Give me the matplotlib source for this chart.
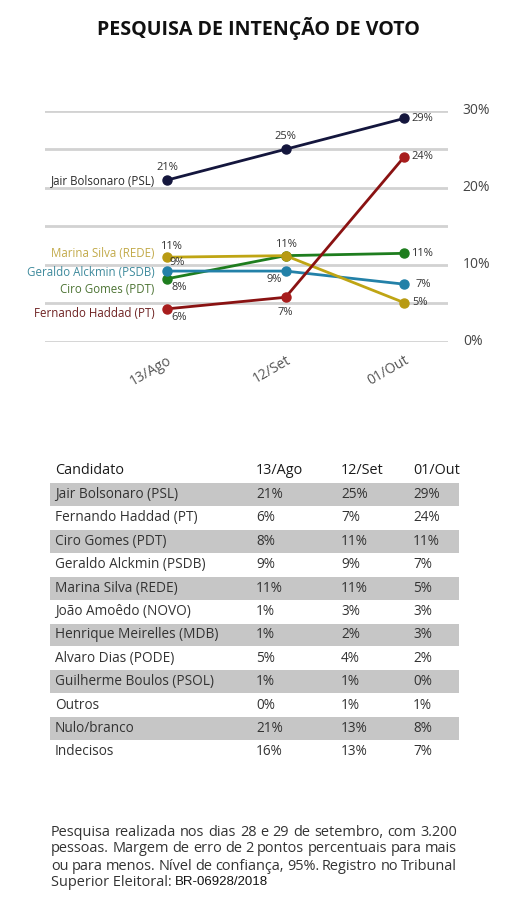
import matplotlib
matplotlib.use("Agg")
import matplotlib.pyplot as plt

# ---------------- data ----------------
dates = ["13/Ago", "12/Set", "01/Out"]
chart_names = ["Marina Silva (REDE)", "Geraldo Alckmin (PSDB)", "Ciro Gomes (PDT)",
               "Fernando Haddad (PT)", "Jair Bolsonaro (PSL)"]
# plotted positions
marina_vals = [11.0, 11.2, 5.1]
alckmin_vals = [9.2, 9.2, 7.5]
ciro_vals = [8.2, 11.2, 11.5]
haddad_vals = [4.3, 5.8, 24.0]
bolsonaro_vals = [21.0, 25.0, 29.0]
# point labels shown on the chart
marina_lbl = ["11%", "11%", "5%"]
alckmin_lbl = ["9%", "9%", "7%"]
ciro_lbl = ["8%", "11%", "11%"]
haddad_lbl = ["6%", "7%", "24%"]
bolsonaro_lbl = ["21%", "25%", "29%"]
y_ticks = [0, 10, 20, 30]
y_grid = [0, 5, 10, 15, 20, 25, 30]

table_header = ["Candidato", "13/Ago", "12/Set", "01/Out"]
table_names = ["Jair Bolsonaro (PSL)", "Fernando Haddad (PT)", "Ciro Gomes (PDT)",
               "Geraldo Alckmin (PSDB)", "Marina Silva (REDE)", "João Amoêdo (NOVO)",
               "Henrique Meirelles (MDB)", "Alvaro Dias (PODE)", "Guilherme Boulos (PSOL)",
               "Outros", "Nulo/branco", "Indecisos"]
col_ago = [21, 6, 8, 9, 11, 1, 1, 5, 1, 0, 21, 16]
col_set = [25, 7, 11, 9, 11, 3, 2, 4, 1, 1, 13, 13]
col_out = [29, 24, 11, 7, 5, 3, 3, 2, 0, 1, 8, 7]

title = "PESQUISA DE INTENÇÃO DE VOTO"
note_lines = ["Pesquisa realizada nos dias 28 e 29 de setembro, com 3.200",
              "pessoas. Margem de erro de 2 pontos percentuais para mais",
              "ou para menos. Nível de confiança, 95%. Registro no Tribunal"]
note_last = "Superior Eleitoral: "
note_reg = "BR-06928/2018"

# ---------------- figure ----------------
W, H = 515, 908
fig = plt.figure(figsize=(W / 100, H / 100), dpi=100)
fig.patch.set_facecolor("white")
FONT = "Open Sans"

def fx(px):
    return px / W

def fy(py):
    return 1 - py / H

fig.text(fx(258), fy(29), title, ha="center", va="center", fontsize=14.1,
         fontweight="bold", family=FONT, color="#111111")

# chart axes: x pixels 45..448, y pixels 342 (0%) .. 110.7 (30%)
ax = fig.add_axes([fx(45), fy(342), (448 - 45) / W, (342 - 110.7) / H])
ax.set_xlim(-1.03, 2.37)
ax.set_ylim(0, 30)
ax.axis("off")
for g in y_grid:
    ax.axhline(g, color="#d2d2d2", lw=2.0, zorder=0)
for t in y_ticks:
    ax.text(2.495, t, f"{t}%", ha="left", va="center", fontsize=10, family=FONT,
            color="#444444", clip_on=False)
xs = list(range(len(dates)))
for i, d in enumerate(dates):
    ax.annotate(d, (i, 0), xytext=(0, -8), textcoords="offset points", ha="right",
                va="top", rotation=30, rotation_mode="anchor", fontsize=10,
                family=FONT, color="#555555", annotation_clip=False)

series = [
    (ciro_vals, ciro_lbl, "#1e7d1e", "#1e7d1e", 2),
    (alckmin_vals, alckmin_lbl, "#2381a8", "#2381a8", 2),
    (marina_vals, marina_lbl, "#bfa514", "#b89a12", 3),
    (haddad_vals, haddad_lbl, "#8a1212", "#a81d1d", 4),
    (bolsonaro_vals, bolsonaro_lbl, "#14163d", "#14163d", 5),
]
for vals, lbls, lc, mc, z in series:
    ax.plot(xs, vals, color=lc, lw=2.0, marker="o", ms=6.5, mfc=mc, mec=mc,
            zorder=z, clip_on=False)

def lab(x, y, s, dx, dy, ha="left"):
    ax.annotate(s, (x, y), xytext=(dx, dy), textcoords="offset points", ha=ha,
                va="center", fontsize=8, family=FONT, color="#333333",
                annotation_clip=False, zorder=10)

lab(0, bolsonaro_vals[0], bolsonaro_lbl[0], 0, 9, "center")
lab(1, bolsonaro_vals[1], bolsonaro_lbl[1], 0, 9, "center")
lab(2, bolsonaro_vals[2], bolsonaro_lbl[2], 5, 0)
lab(2, haddad_vals[2], haddad_lbl[2], 5, 0)
lab(0, marina_vals[0], marina_lbl[0], 3, 8, "center")
lab(0, alckmin_vals[0], alckmin_lbl[0], 7, 6, "center")
lab(0, ciro_vals[0], ciro_lbl[0], 9, -6, "center")
lab(0, haddad_vals[0], haddad_lbl[0], 9, -6, "center")
lab(1, ciro_vals[1], ciro_lbl[1], 0, 8, "center")
lab(1, alckmin_vals[1], alckmin_lbl[1], -8, -6, "center")
lab(1, haddad_vals[1], haddad_lbl[1], 0, -11, "center")
lab(2, ciro_vals[2], ciro_lbl[2], 5, 0)
lab(2, alckmin_vals[2], alckmin_lbl[2], 8, 0)
lab(2, marina_vals[2], marina_lbl[2], 6, 0)

# left-side series names (right-aligned at pixel x ~155)
name_style = [
    (chart_names[4], bolsonaro_vals[0], 0, "#2a2a2a"),
    (chart_names[0], marina_vals[0], 3, "#c2aa4a"),
    (chart_names[1], alckmin_vals[0], -1, "#3e8a9c"),
    (chart_names[2], ciro_vals[0], -8, "#4d7434"),
    (chart_names[3], haddad_vals[0], -3, "#6e2222"),
]
for nm, yv, dy, col in name_style:
    ax.annotate(nm, (0, yv), xytext=(-9, dy), textcoords="offset points", ha="right",
                va="center", fontsize=8.3, family=FONT, color=col,
                annotation_clip=False)

# ---------------- table ----------------
tax = fig.add_axes([0, 0, 1, 1])
tax.set_xlim(0, W)
tax.set_ylim(H, 0)
tax.axis("off")
tax.patch.set_alpha(0)
col_x = [55, 256, 341, 413]
row0 = 494.5
dy_row = 23.4
for j in range(4):
    tax.text(col_x[j], 471, table_header[j], ha="left", va="center", fontsize=10.4,
             family=FONT, color="#1a1a1a")
cols = [col_ago, col_set, col_out]
for i, nm in enumerate(table_names):
    yc = row0 + i * dy_row
    if i % 2 == 0:
        tax.add_patch(plt.Rectangle((50, yc - 11.4), 409, 22.8, color="#c6c6c6", lw=0))
    tax.text(col_x[0], yc, nm, ha="left", va="center", fontsize=9.8, family=FONT,
             color="#333333")
    for j in range(3):
        tax.text(col_x[j + 1], yc, f"{cols[j][i]}%", ha="left", va="center",
                 fontsize=9.8, family=FONT, color="#333333")

# ---------------- justified footnote ----------------
fig.canvas.draw()
rend = fig.canvas.get_renderer()
x0, x1 = 51, 457
line_y = [832, 849, 866, 882]

def width_of(s, fs, **kw):
    t = tax.text(0, 0, s, fontsize=fs, **kw)
    w = t.get_window_extent(rend).width
    t.remove()
    return w

# size so that the first (longest natural) line fits the column width
NOTE_FS = 10 * (x1 - x0 - 2) / width_of(note_lines[0], 10, family=FONT)

for li, line in enumerate(note_lines):
    words = line.split(" ")
    ws = [width_of(w, NOTE_FS, family=FONT) for w in words]
    gap = (x1 - x0 - sum(ws)) / (len(words) - 1)
    x = x0
    for w, wd in zip(words, ws):
        tax.text(x, line_y[li], w, ha="left", va="center", fontsize=NOTE_FS,
                 family=FONT, color="#333333")
        x += wd + gap
wl = width_of(note_last, NOTE_FS, family=FONT)
tax.text(x0, line_y[3], note_last, ha="left", va="center", fontsize=NOTE_FS,
         family=FONT, color="#333333")
tax.text(x0 + wl, line_y[3], note_reg, ha="left", va="center", fontsize=NOTE_FS * 0.92,
         family="Liberation Sans", color="#111111")

fig.savefig("out.png", dpi=100, facecolor="white")
